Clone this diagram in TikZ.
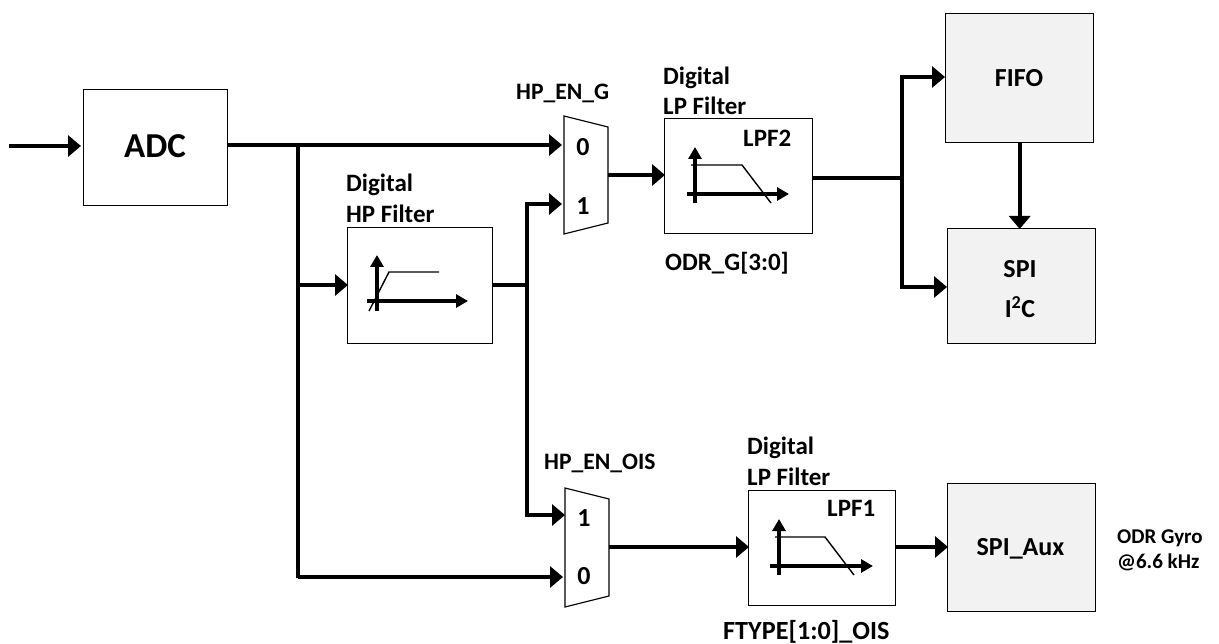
\documentclass[tikz,border=0pt]{standalone}
\usepackage{fontspec}
\setmainfont{Carlito}[BoldFont={Carlito Bold}]
\usetikzlibrary{arrows.meta}
\tikzset{
  x=1pt,y=-1pt,
  boxnode/.style={draw=black,line width=1.4pt,inner sep=0pt,anchor=north west},
  graybox/.style={boxnode,fill=black!5},
  wire/.style={line width=4pt},
  arrowwire/.style={wire,-{Triangle[length=13pt,width=21pt]},shorten >=-1pt},
  axis/.style={line width=3.4pt,-{Triangle[length=12pt,width=13pt]}},
  resp/.style={line width=1.4pt},
  muxshape/.style={draw=black,line width=1.2pt,fill=white},
  lab/.style={font=\bfseries\fontsize{25}{28}\selectfont,inner sep=0pt,anchor=base west},
  labn/.style={font=\bfseries\fontsize{23.6}{28}\selectfont,inner sep=0pt,anchor=base west},
  labw/.style={font=\bfseries\fontsize{26.2}{28}\selectfont,inner sep=0pt,anchor=base west},
  port/.style={font=\bfseries\fontsize{26}{28}\selectfont,inner sep=0pt,anchor=base},
  big/.style={font=\bfseries\fontsize{35}{38}\selectfont,inner sep=0pt,anchor=base},
  mid/.style={font=\bfseries\fontsize{26}{28}\selectfont,inner sep=0pt,anchor=base},
  small/.style={font=\bfseries\fontsize{21}{24}\selectfont,inner sep=0pt,anchor=base west},
}
\begin{document}
\begin{tikzpicture}
\useasboundingbox (0,0) rectangle (1219,644);
% boxes
\node[boxnode,minimum width=144pt,minimum height=116pt] (adc) at (83,89) {};
\node[big] (adct) at (155,158) {ADC};
\node[boxnode,minimum width=145pt,minimum height=116pt] (hp) at (347,227) {};
\node[boxnode,minimum width=148pt,minimum height=115pt] (lpf2) at (664,118) {};
\node[boxnode,minimum width=147pt,minimum height=115pt] (lpf1) at (748,490) {};
\node[graybox,minimum width=148pt,minimum height=129pt] (fifo) at (945,13) {};
\node[mid] (fifot) at (1019,87) {FIFO};
\node[graybox,minimum width=148pt,minimum height=115pt] (spi) at (947,228) {};
\node[mid] (spit) at (1020,278) {SPI};
\node[mid] (i2ct) at (1020,318) {I\textsuperscript{2}C};
\node[graybox,minimum width=148pt,minimum height=128pt] (aux) at (947,483) {};
\node[mid] (auxt) at (1020.5,555) {SPI\_Aux};
% muxes
\draw[muxshape] (564,116) -- (608,127) -- (608,223) -- (564,234) -- cycle;
\draw[muxshape] (565,488) -- (609,499) -- (609,596) -- (565,607) -- cycle;
% ports and junctions
\coordinate (in) at (9,146);
\coordinate (intip) at (80,146);
\coordinate (adcout) at (227,145);
\coordinate (j1) at (298,145);
\coordinate (j1b) at (298,285);
\coordinate (j1c) at (298,576);
\coordinate (hpin) at (347,285);
\coordinate (hpout) at (492,285);
\coordinate (j2) at (527,285);
\coordinate (j2a) at (527,204);
\coordinate (j2c) at (527,515);
\coordinate (m1a) at (561,145);
\coordinate (m1b) at (561,204);
\coordinate (m1o) at (608,175);
\coordinate (m2a) at (564,515);
\coordinate (m2b) at (562,577);
\coordinate (m2o) at (609,547);
\coordinate (l2i) at (664,175);
\coordinate (l2o) at (812,178);
\coordinate (j3) at (902,178);
\coordinate (j3a) at (902,77);
\coordinate (j3b) at (902,287);
\coordinate (fi) at (944,77);
\coordinate (si) at (946,287);
\coordinate (l1i) at (748,547);
\coordinate (l1o) at (895,547);
\coordinate (ai) at (947,547);
\coordinate (j1d) at (298,578);
\coordinate (j1e) at (298,577);
% connectors
\draw[arrowwire] (in) -- (intip);
\draw[arrowwire] (adcout) -- (m1a);
\draw[wire] (j1) -- (j1d);
\draw[arrowwire] (j1b) -- (hpin);
\draw[arrowwire] (j1e) -- (m2b);
\draw[wire] (hpout) -- (j2);
\draw[arrowwire] (j2) -- (j2a) -- (m1b);
\draw[arrowwire] (j2) -- (j2c) -- (m2a);
\draw[arrowwire] (m1o) -- (l2i);
\draw[wire] (l2o) -- (j3);
\draw[arrowwire] (j3) -- (j3a) -- (fi);
\draw[arrowwire] (j3) -- (j3b) -- (si);
\draw[arrowwire] (fifo.south) -- (fifo.south |- spi.north);
\draw[arrowwire] (m2o) -- (l1i);
\draw[arrowwire] (l1o) -- (ai);
% HP icon
\draw[axis] (377,311) -- (377,255);
\draw[axis] (367,301) -- (468,301);
\draw[resp] (369,311) -- (389,272) -- (439,272);
% LPF2 icon
\draw[axis] (695,203) -- (695,147);
\draw[axis] (687,194) -- (789,194);
\draw[resp] (691,165) -- (742,165) -- (771,203);
% LPF1 icon
\draw[axis] (779,575) -- (779,519);
\draw[axis] (770,566) -- (873,566);
\draw[resp] (775,537) -- (825,537) -- (854,575);
% labels
\node[labn] (t1) at (516,100) {HP\_EN\_G};
\node[lab] (t2) at (663,85) {Digital};
\node[lab] (t3) at (663,115) {LP Filter};
\node[lab] (t4) at (346,192) {Digital};
\node[lab] (t5) at (346,223) {HP Filter};
\node[port] (t6) at (583,156) {0};
\node[port] (t7) at (583,215) {1};
\node[lab] (t8) at (743,147) {LPF2};
\node[lab] (t9) at (665,271) {ODR\_G[3:0]};
\node[lab] (t10) at (747,454) {Digital};
\node[lab] (t11) at (747,485) {LP Filter};
\node[labn] (t12) at (544,469) {HP\_EN\_OIS};
\node[port] (t13) at (584,526) {1};
\node[port] (t14) at (584,584) {0};
\node[lab] (t15) at (827,516) {LPF1};
\node[labw] (t16) at (723,639) {FTYPE[1:0]\_OIS};
\node[small] (t17) at (1117,543) {ODR Gyro};
\node[small] (t18) at (1117,568) {@6.6 kHz};
\end{tikzpicture}
\end{document}
